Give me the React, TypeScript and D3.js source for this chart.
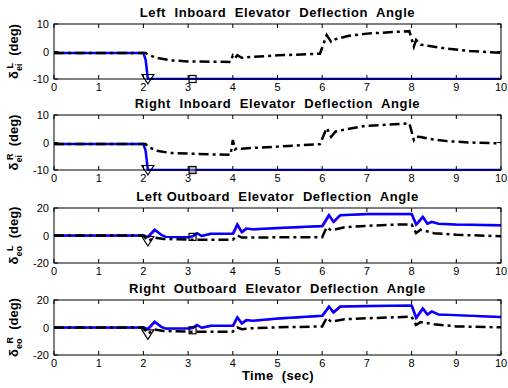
import { useEffect, useRef } from "react";
import * as d3 from "d3";

const width = 508;
const height = 388;

const xTicks = [0, 1, 2, 3, 4, 5, 6, 7, 8, 9, 10];

// left inboard
const liBlueT = [0, 2.0, 2.05, 2.1, 10];
const liBlueV = [-0.5, -0.5, -3, -10, -10];
const liBlackT = [0, 2.0, 2.05, 2.1, 2.3, 2.6, 3.0, 3.5, 3.95, 4.0, 4.05, 4.1, 4.2, 4.4, 5, 5.95, 6.1, 6.2, 6.3, 6.6, 7, 7.5, 7.95, 8.05, 8.1, 8.2, 8.4, 8.8, 9.3, 10];
const liBlackV = [-0.5, -0.5, -0.5, -1.2, -2.3, -3.2, -3.6, -3.7, -3.8, -1.5, -2.5, -1.3, -2.3, -2, -1.4, -0.8, 6, 3.5, 4.5, 5.7, 6.5, 7, 7.4, 1.8, 4.2, 2.5, 2, 1, 0.2, -0.5];
const liMarkerV = [-10, -10];

// right inboard
const riBlueT = [0, 2.0, 2.05, 2.1, 10];
const riBlueV = [-0.5, -0.5, -3, -10, -10];
const riBlackT = [0, 2.0, 2.05, 2.1, 2.3, 2.6, 3.0, 3.5, 3.95, 4.0, 4.05, 4.1, 4.2, 4.4, 5, 5.95, 6.1, 6.2, 6.3, 6.6, 7, 7.5, 7.95, 8.05, 8.1, 8.2, 8.4, 8.8, 9.3, 10];
const riBlackV = [-0.5, -0.5, -0.5, -1.5, -3, -3.8, -4, -4.3, -4.5, 0.9, -2.5, -2, -2.3, -2, -1.5, -0.6, 5.3, 2.1, 4, 5, 6.1, 6.5, 7, 0.9, 2.1, 2, 1.3, 0.5, 0, -0.3];
const riMarkerV = [-10, -10];

// left outboard
const loBlueT = [0, 2.0, 2.1, 2.25, 2.4, 2.5, 3.0, 3.1, 3.2, 3.3, 3.5, 4.0, 4.1, 4.2, 4.3, 4.45, 5, 6.0, 6.15, 6.25, 6.4, 7, 8.0, 8.1, 8.25, 8.35, 8.45, 8.6, 9, 10];
const loBlueV = [0, 0, -1, 4.2, 0.5, -1, -1.2, -0.5, 1.7, -0.3, 1.2, 1.2, 8, 2.5, 5, 4.5, 5.4, 6.9, 14.8, 9.9, 14.8, 15.6, 15.6, 8, 13.6, 8.6, 10, 8.6, 8, 7.4];
const loBlackT = [0, 2.0, 2.1, 2.25, 2.45, 3.0, 3.5, 4.0, 4.1, 4.2, 4.4, 5, 6.0, 6.1, 6.2, 6.5, 7, 7.5, 8.0, 8.1, 8.2, 8.5, 9, 10];
const loBlackV = [0, 0, -4, -1.5, -2.5, -3, -3, -3, 0, -1.5, -1.5, -1.3, -1.2, 6, 3.7, 6, 7, 7.8, 8.1, 1.7, 4.2, 1.7, 0.5, -0.5];
const loMarkerV = [-4, -1];

// right outboard
const roBlueT = [0, 2.0, 2.1, 2.25, 2.4, 2.5, 3.0, 3.1, 3.2, 3.3, 3.5, 4.0, 4.1, 4.2, 4.3, 4.45, 5, 6.0, 6.15, 6.25, 6.4, 7, 8.0, 8.1, 8.25, 8.35, 8.45, 8.6, 9, 10];
const roBlueV = [0, 0, -1, 4.2, 0.5, -0.8, -0.6, -0.3, 1.8, -0.2, 1.2, 1.2, 7.4, 3, 5.5, 5, 6.5, 8.6, 15.2, 11, 15.2, 15.6, 16, 7.1, 13.9, 9.5, 11.7, 9.5, 9, 7.6];
const roBlackT = [0, 2.0, 2.1, 2.25, 2.45, 3.0, 3.5, 4.0, 4.1, 4.2, 4.4, 5, 6.0, 6.1, 6.2, 6.5, 7, 7.5, 8.0, 8.1, 8.2, 8.5, 9, 10];
const roBlackV = [0, 0, -4.5, -1.5, -2.5, -3, -3, -3, 0, -1.2, -0.6, 0.1, 0.8, 7, 4.2, 6, 6.7, 7.3, 7.9, 1.8, 3.9, 2.4, 0.8, 0.1];
const roMarkerV = [-5, -2];

const markerT = [2.1, 3.1];

const titles = [
  "Left  Inboard  Elevator  Deflection  Angle",
  "Right  Inboard  Elevator  Deflection  Angle",
  "Left Outboard  Elevator  Deflection  Angle",
  "Right  Outboard  Elevator  Deflection  Angle",
];
const ySubs = ["ei", "ei", "eo", "eo"];
const ySups = ["L", "R", "L", "R"];
const yLimits = [10, 10, 20, 20];

const panels = [
  { top: 24, blueT: liBlueT, blueV: liBlueV, blackT: liBlackT, blackV: liBlackV, mk: liMarkerV },
  { top: 115, blueT: riBlueT, blueV: riBlueV, blackT: riBlackT, blackV: riBlackV, mk: riMarkerV },
  { top: 208, blueT: loBlueT, blueV: loBlueV, blackT: loBlackT, blackV: loBlackV, mk: loMarkerV },
  { top: 300, blueT: roBlueT, blueV: roBlueV, blackT: roBlackT, blackV: roBlackV, mk: roMarkerV },
];

const font = "Liberation Sans, Arial, sans-serif";

const App = () => {
  const ref = useRef<SVGSVGElement>(null);

  useEffect(() => {
    const svg = d3.select(ref.current);
    svg.selectAll("*").remove();

    const left = 54;
    const right = 501;
    const ph = 55;
    const x = d3.scaleLinear().domain([0, 10]).range([left, right]);

    panels.forEach((p, i) => {
      const lim = yLimits[i];
      const y = d3.scaleLinear().domain([-lim, lim]).range([p.top + ph, p.top]);
      const g = svg.append("g");

      g.append("rect")
        .attr("x", left).attr("y", p.top)
        .attr("width", right - left).attr("height", ph)
        .attr("fill", "#fff");

      const clipId = `clip${i}`;
      g.append("clipPath").attr("id", clipId)
        .append("rect")
        .attr("x", left).attr("y", p.top - 1)
        .attr("width", right - left).attr("height", ph + 2);

      const line = d3.line<[number, number]>()
        .x(d => x(d[0]))
        .y(d => y(d[1]));

      const pl = g.append("g").attr("clip-path", `url(#${clipId})`);

      const blue = p.blueT.map((t, k) => [t, p.blueV[k]] as [number, number]);
      const black = p.blackT.map((t, k) => [t, p.blackV[k]] as [number, number]);

      if (i >= 2) {
        pl.append("path").attr("d", line(blue.map(d => [d[0] + 0.02, d[1] - 0.3] as [number, number])))
          .attr("fill", "none").attr("stroke", "#ff00ff").attr("stroke-width", 1.5);
      }
      pl.append("path").attr("d", line(blue))
        .attr("fill", "none").attr("stroke", "#0000ff").attr("stroke-width", 2.5);
      pl.append("path").attr("d", line(black))
        .attr("fill", "none").attr("stroke", "#000").attr("stroke-width", 2.5)
        .attr("stroke-dasharray", "10,4,3,4");

      // markers
      const tx = x(markerT[0]);
      const ty = y(p.mk[0]);
      g.append("path")
        .attr("d", `M${tx - 6},${ty - 4.5}L${tx + 6},${ty - 4.5}L${tx},${ty + 5}Z`)
        .attr("fill", "none").attr("stroke", "#000").attr("stroke-width", 1.2);
      g.append("rect")
        .attr("x", x(markerT[1]) - 3.5).attr("y", y(p.mk[1]) - 3.5)
        .attr("width", 7).attr("height", 7)
        .attr("fill", i === 1 ? "#b8b0e8" : "none")
        .attr("stroke", "#000").attr("stroke-width", 1.2);

      // frame
      g.append("rect")
        .attr("x", left).attr("y", p.top)
        .attr("width", right - left).attr("height", ph)
        .attr("fill", "none").attr("stroke", "#000").attr("stroke-width", 1);

      // x ticks
      xTicks.forEach(t => {
        g.append("line").attr("x1", x(t)).attr("x2", x(t))
          .attr("y1", p.top + ph).attr("y2", p.top + ph - 4).attr("stroke", "#000");
        g.append("line").attr("x1", x(t)).attr("x2", x(t))
          .attr("y1", p.top).attr("y2", p.top + 4).attr("stroke", "#000");
        g.append("text").attr("x", x(t)).attr("y", p.top + ph + 12)
          .attr("text-anchor", "middle").attr("font-size", 11)
          .attr("font-family", font)
          .text(t);
      });

      // y ticks
      [-lim, 0, lim].forEach(v => {
        g.append("line").attr("x1", left).attr("x2", left + 4)
          .attr("y1", y(v)).attr("y2", y(v)).attr("stroke", "#000");
        g.append("line").attr("x1", right).attr("x2", right - 4)
          .attr("y1", y(v)).attr("y2", y(v)).attr("stroke", "#000");
        g.append("text").attr("x", left - 5).attr("y", y(v) + 4)
          .attr("text-anchor", "end").attr("font-size", 11)
          .attr("font-family", font)
          .text(v);
      });

      // title
      g.append("text").attr("x", (left + right) / 2).attr("y", p.top - 7)
        .attr("text-anchor", "middle").attr("font-size", 13).attr("font-weight", "bold")
        .attr("font-family", font).attr("letter-spacing", 0.6)
        .style("white-space", "pre")
        .text(titles[i]);

      // y label
      const yl = g.append("text")
        .attr("transform", `translate(18,${p.top + ph / 2}) rotate(-90)`)
        .attr("text-anchor", "middle").attr("font-size", 13).attr("font-weight", "bold")
        .attr("font-family", font)
        .style("white-space", "pre");
      yl.append("tspan").text("δ");
      yl.append("tspan").attr("font-size", 9).attr("dy", 4).text(ySubs[i]);
      yl.append("tspan").attr("font-size", 9).attr("dy", -9).attr("dx", -5).text(ySups[i]);
      yl.append("tspan").attr("dy", 5).text("  (deg)");
    });

    svg.append("text").attr("x", 278).attr("y", 380)
      .attr("text-anchor", "middle").attr("font-size", 13).attr("font-weight", "bold")
      .attr("font-family", font).attr("letter-spacing", 0.4)
      .style("white-space", "pre")
      .text("Time  (sec)");
  }, []);

  return (
    <div style={{ position: "absolute", left: 0, top: 0 }}>
      <svg ref={ref} width={width} height={height} style={{ display: "block", background: "#fff" }}></svg>
    </div>
  );
};

export default App;
